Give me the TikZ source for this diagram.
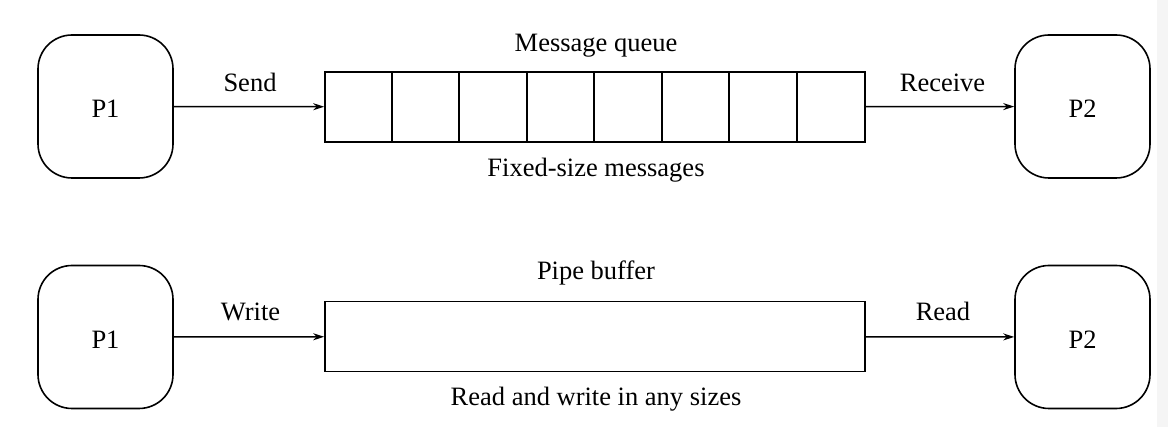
\documentclass[tikz,border=0pt]{standalone}
\usepackage{fontspec}
\setmainfont{Liberation Serif}
\usetikzlibrary{arrows.meta,calc}
\begin{document}
\begin{tikzpicture}[x=1pt,y=-1pt,
  every node/.style={font=\fontsize{26.5}{30}\selectfont},
  proc/.style={draw, line width=1.6pt, rounded corners=34pt, minimum width=135pt, minimum height=143pt, inner sep=0pt, text depth=0pt, text height=23pt},
  buf/.style={draw, line width=1.6pt, minimum width=540pt, minimum height=70pt, inner sep=0pt},
  lbl/.style={anchor=base, inner sep=0pt},
  conn/.style={line width=1.5pt, -{Stealth[length=11pt,width=7pt]}},
  divider/.style={line width=1.6pt}
]
\useasboundingbox (0,0) rectangle (1168,427);
\fill[black!4] (1157,0) rectangle (1168,427);

% top row
\node[proc] (p1a) at (105.5,106.5) {P1};
\node[proc] (p2a) at (1082.5,106.5) {P2};
\node[buf] (queue) at (595,107) {};
\foreach \i in {1,...,7} {
  \coordinate (qt\i) at ($(queue.north west)+(67.5*\i,0)$);
  \coordinate (qb\i) at ($(queue.south west)+(67.5*\i,0)$);
  \draw[divider] (qt\i) -- (qb\i);
}
\draw[conn] (p1a) -- (queue);
\draw[conn] (queue) -- (p2a);
\node[lbl] (send) at (250,92) {Send};
\node[lbl] (recv) at (942.5,92) {Receive};
\node[lbl] (mq) at (596,52) {Message queue};
\node[lbl] (fsm) at (596,177) {Fixed-size messages};

% bottom row
\node[proc] (p1b) at (105.5,337) {P1};
\node[proc] (p2b) at (1082.5,337) {P2};
\node[buf] (pipe) at (595,336.5) {};
\draw[conn] (p1b) -- (pipe);
\draw[conn] (pipe) -- (p2b);
\node[lbl] (write) at (250.5,321) {Write};
\node[lbl] (read) at (943,321) {Read};
\node[lbl] (pb) at (596,280) {Pipe buffer};
\node[lbl] (rw) at (596,406) {Read and write in any sizes};
\end{tikzpicture}
\end{document}
